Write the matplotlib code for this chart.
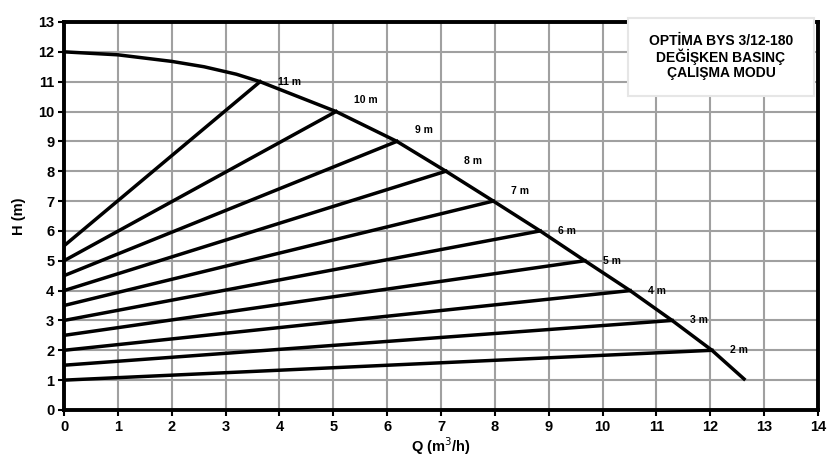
import matplotlib.pyplot as plt
from matplotlib.patches import FancyBboxPatch

plt.rcParams['font.family'] = ['Liberation Sans', 'DejaVu Sans']

# max curve
q_max = [0, 1, 2, 2.6, 3.2, 3.64, 5.05, 6.18, 7.09, 7.97, 8.84, 9.67, 10.51, 11.29, 12.03, 12.65]
h_max = [12, 11.9, 11.68, 11.5, 11.25, 11, 10, 9, 8, 7, 6, 5, 4, 3, 2, 1]

# proportional pressure lines: set head, end flow on max curve
set_h = [11, 10, 9, 8, 7, 6, 5, 4, 3, 2]
end_q = [3.64, 5.05, 6.18, 7.09, 7.97, 8.84, 9.67, 10.51, 11.29, 12.03]
start_h = [5.5, 5, 4.5, 4, 3.5, 3, 2.5, 2, 1.5, 1]
labels = ['11 m', '10 m', '9 m', '8 m', '7 m', '6 m', '5 m', '4 m', '3 m', '2 m']
lab_dy = [0, 8, 8, 7, 7, 0, 0, 0, 0, 0]

fig = plt.figure(figsize=(8.38, 4.72), dpi=100)
ax = fig.add_axes([0.0764, 0.1314, 0.8998, 0.8220])

ax.plot(q_max, h_max, color='black', lw=2.5, solid_capstyle='butt', zorder=3)
for h, q, h0, lab, dy in zip(set_h, end_q, start_h, labels, lab_dy):
    ax.plot([0, q], [h0, h], color='black', lw=2.5, zorder=3)
    ax.annotate(lab, (q, h), xytext=(13, dy), textcoords='offset points',
                fontsize=7.5, fontweight='bold', va='center', ha='left', zorder=4)

ax.set_xlim(0, 14)
ax.set_ylim(0, 13)
ax.set_xticks(range(0, 15))
ax.set_yticks(range(0, 14))
ax.grid(True, color='#a0a0a0', lw=1.5)
ax.set_axisbelow(True)
for s in ax.spines.values():
    s.set_linewidth(2.8)
ax.tick_params(direction='out', length=4, width=1.5, labelsize=10.5, pad=3)
for t in ax.get_xticklabels() + ax.get_yticklabels():
    t.set_fontweight('bold')
ax.set_xlabel('Q (m$^3$/h)', fontsize=10.5, fontweight='bold', labelpad=1)
ax.set_ylabel('H (m)', fontsize=10.5, fontweight='bold', labelpad=9)

box = FancyBboxPatch((628 / 838, 1 - 96 / 472), 186 / 838, 78 / 472,
                     boxstyle='square,pad=0', transform=fig.transFigure,
                     facecolor='white', edgecolor='#e6e6e6', lw=1.5, zorder=5)
fig.patches.append(box)
fig.text(721 / 838, 1 - 57 / 472, 'OPTİMA BYS 3/12-180\nDEĞİŞKEN BASINÇ\nÇALIŞMA MODU',
         ha='center', va='center', fontsize=10, fontweight='bold', linespacing=1.1, zorder=6)

fig.savefig('out.png', dpi=100)
